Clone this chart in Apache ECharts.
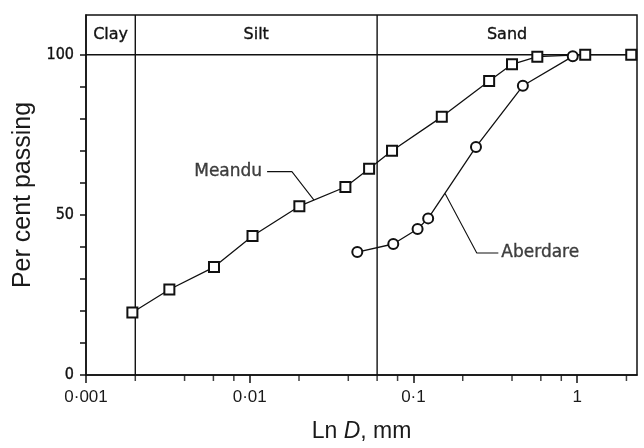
<!DOCTYPE html>
<html><head><meta charset="utf-8">
<script src="https://cdn.jsdelivr.net/npm/echarts@6/dist/echarts.min.js"></script>
<style>html,body{margin:0;padding:0;background:#fff}#c{width:644px;height:448px}</style>
</head><body><div id="c"></div>
<script>
// Particle size (mm) and per cent passing
const meanduD = [0.00192, 0.00323, 0.00605, 0.0104, 0.0201, 0.0384, 0.0536, 0.0740, 0.149, 0.290, 0.400, 0.571, 1.12, 2.14];
const meanduP = [19.5, 26.7, 33.7, 43.4, 52.7, 58.7, 64.4, 70.0, 80.6, 91.8, 97.0, 99.4, 100, 100];
const aberdareD = [0.0454, 0.0753, 0.106, 0.123, 0.241, 0.466, 0.94];
const aberdareP = [38.4, 40.9, 45.6, 48.9, 71.2, 90.3, 99.5];

// Soil classes and their boundaries (mm)
const zoneNames = ['Clay', 'Silt', 'Sand'];
const zoneBounds = [0.001, 0.002, 0.06, 2.32];
const yMax = 112.4;
const fullPassing = 100;

// Axis ticks
const xTickValues = [0.001, 0.01, 0.1, 1];
const xTickLabels = ['0·001', '0·01', '0·1', '1'];
const xMinorTicks = [0.002, 0.004, 0.006, 0.008, 0.02, 0.04, 0.06, 0.08, 0.2, 0.4, 0.6, 0.8, 2];
const yTickValues = [0, 10, 20, 30, 40, 50, 60, 70, 80, 90, 100];
const yLabelValues = [0, 50, 100];

// Curve labels with leader lines (data units)
const meanduLeader = [[0.01277, 63.5], [0.0181, 63.5], [0.0247, 54.6]];
const aberdareLeader = [[0.156, 56.7], [0.2437, 38.1], [0.330, 38.1]];

const INK = '#111';
const zip = (a, b) => a.map((v, i) => [v, b[i]]);
const xLabel = v => {
  const i = xTickValues.findIndex(t => Math.abs(Math.log10(t) - Math.log10(v)) < 1e-6);
  return i >= 0 ? xTickLabels[i] : '';
};
const guide = data => ({type: 'line', data, symbol: 'none', silent: true, z: 3, lineStyle: {color: INK, width: 1.4}});
const techText = {fontFamily: 'DejaVu Sans', color: INK, textBorderColor: INK, textBorderWidth: 0.35};

const chart = echarts.init(document.getElementById('c'), null, {renderer: 'canvas'});
chart.setOption({
  animation: false,
  backgroundColor: '#fff',
  grid: {left: 86, right: 7, top: 15, bottom: 70, show: true, borderColor: INK, borderWidth: 1.5, backgroundColor: 'transparent'},
  xAxis: {
    type: 'log', logBase: 10, min: zoneBounds[0], max: zoneBounds[3],
    axisLine: {lineStyle: {color: INK, width: 1.5}},
    axisTick: {customValues: xTickValues, length: 8, lineStyle: {color: INK, width: 1.5}},
    axisLabel: {customValues: xTickValues, formatter: xLabel, fontFamily: 'Liberation Sans', fontSize: 17, color: '#1a1a1a', margin: 14},
    splitLine: {show: false},
    name: '{a|Ln }{b|D}{a|, mm}', nameLocation: 'middle', nameGap: 45,
    nameTextStyle: {rich: {
      a: {fontFamily: 'Liberation Sans', fontSize: 23, color: '#1a1a1a'},
      b: {fontFamily: 'Liberation Sans', fontSize: 23, fontStyle: 'italic', color: '#1a1a1a'}
    }}
  },
  yAxis: {
    type: 'value', min: 0, max: yMax,
    axisLine: {show: true, lineStyle: {color: INK, width: 1.5}},
    axisTick: {show: true, customValues: yTickValues, length: 6, lineStyle: {color: INK, width: 1.5}},
    axisLabel: Object.assign({customValues: yLabelValues, fontSize: 16, margin: 12}, techText, {fontFamily: 'DejaVu Sans Condensed'}),
    splitLine: {show: false},
    name: 'Per cent passing', nameLocation: 'middle', nameRotate: 90, nameGap: 50,
    nameTextStyle: {fontFamily: 'Liberation Sans', fontSize: 25, color: '#1a1a1a'}
  },
  series: [
    guide([[zoneBounds[1], 0], [zoneBounds[1], yMax]]),
    guide([[zoneBounds[2], 0], [zoneBounds[2], yMax]]),
    guide([[zoneBounds[0], fullPassing], [zoneBounds[3], fullPassing]]),
    {
      name: 'Meandu', type: 'line', data: zip(meanduD, meanduP),
      symbol: 'emptyRect', symbolSize: 10, z: 5,
      lineStyle: {color: INK, width: 1.3}, itemStyle: {color: INK, borderColor: INK, borderWidth: 1.4},
      markArea: {
        silent: true, itemStyle: {color: 'transparent'},
        label: Object.assign({show: true, position: 'inside', fontSize: 16}, techText),
        data: zoneNames.map((n, i) => [{name: n, xAxis: zoneBounds[i], yAxis: fullPassing}, {xAxis: zoneBounds[i + 1], yAxis: yMax}])
      }
    },
    {
      name: 'Aberdare', type: 'line', data: zip(aberdareD, aberdareP),
      symbol: 'emptyCircle', symbolSize: 10, z: 5,
      lineStyle: {color: INK, width: 1.3}, itemStyle: {color: INK, borderColor: INK, borderWidth: 1.4}
    },
    {type: 'line', data: meanduLeader, symbol: 'none', silent: true, lineStyle: {color: INK, width: 1.1}},
    {type: 'line', data: aberdareLeader, symbol: 'none', silent: true, lineStyle: {color: INK, width: 1.1}},
    {
      type: 'scatter', silent: true, symbolSize: 0, itemStyle: {color: INK},
      label: Object.assign({show: true, fontSize: 17}, techText),
      data: [
        {value: meanduLeader[0], label: {position: 'left', distance: 5, formatter: 'Meandu'}},
        {value: aberdareLeader[2], label: {position: 'right', distance: 3, formatter: 'Aberdare'}}
      ]
    },
    {
      type: 'scatter', silent: true, clip: false,
      symbol: 'rect', symbolSize: [1.5, 6], symbolOffset: [0, 3],
      itemStyle: {color: INK},
      data: xMinorTicks.map(d => [d, 0])
    }
  ]
});
</script></body></html>
